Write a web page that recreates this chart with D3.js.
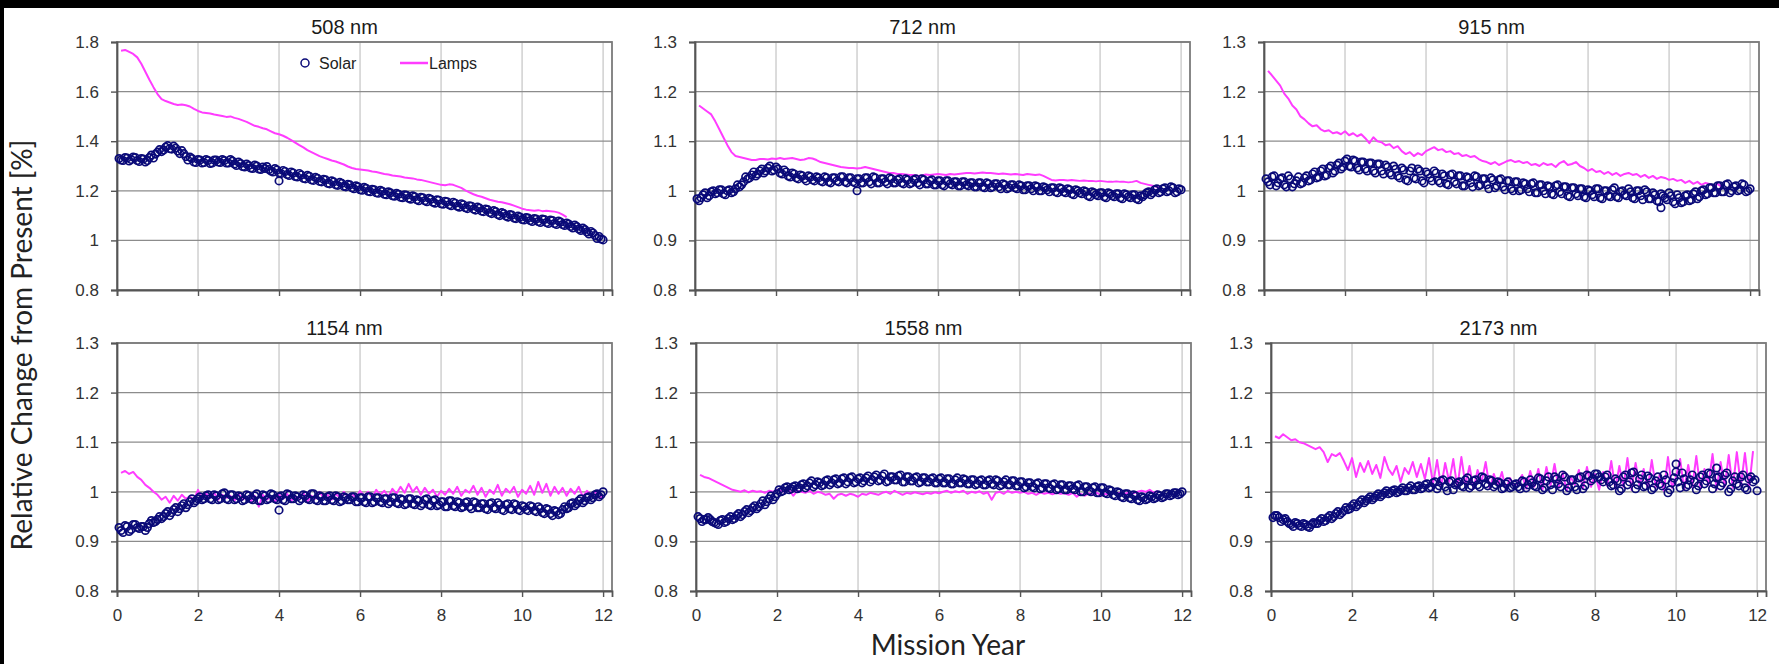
<!DOCTYPE html>
<html>
<head>
<meta charset="utf-8">
<script src="https://cdn.jsdelivr.net/npm/d3@7"></script>
<style>
  body { margin: 0; background: #fff; }
  svg { display: block; }
</style>
</head>
<body>
<div id="chart"></div>
<script>
// Sample times (mission year): main samples and the in-between samples
const years = [0.1,0.2,0.3,0.4,0.5,0.6,0.7,0.8,0.9,1.0,1.1,1.2,1.3,1.4,1.5,1.6,1.7,1.8,1.9,2.0,
  2.1,2.2,2.3,2.4,2.5,2.6,2.7,2.8,2.9,3.0,3.1,3.2,3.3,3.4,3.5,3.6,3.7,3.8,3.9,4.0,
  4.1,4.2,4.3,4.4,4.5,4.6,4.7,4.8,4.9,5.0,5.1,5.2,5.3,5.4,5.5,5.6,5.7,5.8,5.9,6.0,
  6.1,6.2,6.3,6.4,6.5,6.6,6.7,6.8,6.9,7.0,7.1,7.2,7.3,7.4,7.5,7.6,7.7,7.8,7.9,8.0,
  8.1,8.2,8.3,8.4,8.5,8.6,8.7,8.8,8.9,9.0,9.1,9.2,9.3,9.4,9.5,9.6,9.7,9.8,9.9,10.0,
  10.1,10.2,10.3,10.4,10.5,10.6,10.7,10.8,10.9,11.0,11.1,11.2,11.3,11.4,11.5,11.6,11.7,11.8,11.9,12.0];
const yearsB = [0.05,0.15,0.25,0.35,0.45,0.55,0.65,0.75,0.85,0.95,1.05,1.15,1.25,1.35,1.45,1.55,1.65,1.75,1.85,1.95,
  2.05,2.15,2.25,2.35,2.45,2.55,2.65,2.75,2.85,2.95,3.05,3.15,3.25,3.35,3.45,3.55,3.65,3.75,3.85,3.95,
  4.05,4.15,4.25,4.35,4.45,4.55,4.65,4.75,4.85,4.95,5.05,5.15,5.25,5.35,5.45,5.55,5.65,5.75,5.85,5.95,
  6.05,6.15,6.25,6.35,6.45,6.55,6.65,6.75,6.85,6.95,7.05,7.15,7.25,7.35,7.45,7.55,7.65,7.75,7.85,7.95,
  8.05,8.15,8.25,8.35,8.45,8.55,8.65,8.75,8.85,8.95,9.05,9.15,9.25,9.35,9.45,9.55,9.65,9.75,9.85,9.95,
  10.05,10.15,10.25,10.35,10.45,10.55,10.65,10.75,10.85,10.95,11.05,11.15,11.25,11.35,11.45,11.55,11.65,11.75,11.85,11.95];

const titles = ["508 nm", "712 nm", "915 nm", "1154 nm", "1558 nm", "2173 nm"];
const xTicks = [0, 2, 4, 6, 8, 10, 12];
const yTicksWide = [0.8, 1.0, 1.2, 1.4, 1.6, 1.8];
const yTicksNarrow = [0.8, 0.9, 1.0, 1.1, 1.2, 1.3];

// Solar (open circles) at years
const solar508 = [1.324,1.334,1.320,1.336,1.322,1.330,1.316,1.334,1.332,1.356,
  1.358,1.376,1.370,1.380,1.360,1.362,1.338,1.336,1.316,1.326,
  1.312,1.326,1.310,1.324,1.316,1.326,1.312,1.326,1.308,1.316,
  1.298,1.308,1.292,1.304,1.288,1.296,1.298,1.280,1.290,1.272,
  1.282,1.266,1.276,1.258,1.270,1.250,1.262,1.244,1.254,1.238,
  1.246,1.230,1.240,1.224,1.234,1.218,1.226,1.212,1.220,1.204,
  1.214,1.198,1.206,1.192,1.202,1.186,1.196,1.180,1.190,1.174,
  1.184,1.170,1.180,1.164,1.174,1.160,1.170,1.154,1.164,1.148,
  1.158,1.144,1.154,1.138,1.148,1.132,1.140,1.126,1.134,1.118,
  1.126,1.112,1.120,1.104,1.112,1.098,1.104,1.090,1.098,1.084,
  1.092,1.080,1.088,1.076,1.086,1.072,1.082,1.068,1.078,1.064,
  1.070,1.056,1.062,1.046,1.050,1.034,1.036,1.020,1.016,1.002];
const solar712 = [0.980,0.992,0.986,0.998,0.994,1.002,0.994,1.000,0.996,1.004,
  1.008,1.018,1.024,1.032,1.030,1.040,1.036,1.046,1.040,1.048,
  1.036,1.042,1.030,1.036,1.026,1.032,1.024,1.030,1.022,1.028,
  1.020,1.028,1.018,1.026,1.020,1.028,1.018,1.026,1.018,1.024,
  1.016,1.026,1.018,1.028,1.016,1.024,1.018,1.026,1.016,1.022,
  1.016,1.024,1.014,1.022,1.016,1.024,1.014,1.020,1.012,1.020,
  1.012,1.020,1.014,1.018,1.010,1.018,1.012,1.016,1.008,1.016,
  1.008,1.016,1.006,1.014,1.008,1.014,1.004,1.012,1.006,1.012,
  1.002,1.010,1.004,1.010,1.000,1.008,1.002,1.006,0.998,1.006,
  0.998,1.004,0.994,1.002,0.996,1.000,0.990,0.998,0.992,0.996,
  0.988,0.996,0.990,0.994,0.986,0.994,0.988,0.992,0.984,0.990,
  0.992,0.998,0.996,1.004,0.998,1.006,1.000,1.006,0.998,1.002];
const solar915 = [1.018,1.028,1.010,1.024,1.012,1.030,1.008,1.020,1.014,1.026,
  1.020,1.034,1.026,1.040,1.030,1.046,1.036,1.052,1.044,1.060,
  1.050,1.062,1.046,1.058,1.044,1.056,1.040,1.054,1.040,1.052,
  1.036,1.050,1.030,1.046,1.022,1.040,1.026,1.044,1.020,1.038,
  1.026,1.040,1.020,1.034,1.014,1.032,1.018,1.030,1.010,1.028,
  1.016,1.030,1.010,1.024,1.012,1.026,1.006,1.022,1.008,1.020,
  1.004,1.018,1.000,1.016,1.004,1.014,0.996,1.012,1.000,1.010,
  0.994,1.010,0.998,1.008,0.990,1.006,0.994,1.004,0.988,1.002,
  0.992,1.004,0.986,1.000,0.990,1.002,0.988,0.998,0.992,1.004,
  0.986,1.000,0.990,1.002,0.984,0.996,0.980,0.994,0.986,0.996,
  0.978,0.992,0.976,0.990,0.980,0.994,0.984,1.000,0.992,1.006,
  0.996,1.010,0.998,1.012,0.996,1.008,1.000,1.014,0.998,1.004];
const solar1154 = [0.922,0.932,0.920,0.934,0.928,0.930,0.922,0.936,0.938,0.944,
  0.946,0.956,0.952,0.964,0.960,0.972,0.968,0.980,0.978,0.986,
  0.984,0.992,0.986,0.994,0.984,0.996,0.986,0.994,0.984,0.992,
  0.982,0.994,0.986,0.992,0.982,0.994,0.984,0.996,0.986,0.990,
  0.984,0.996,0.986,0.992,0.982,0.994,0.986,0.996,0.984,0.992,
  0.982,0.990,0.984,0.992,0.980,0.990,0.984,0.990,0.980,0.988,
  0.980,0.990,0.978,0.988,0.980,0.986,0.976,0.988,0.978,0.986,
  0.974,0.986,0.976,0.984,0.972,0.984,0.974,0.982,0.972,0.980,
  0.970,0.982,0.972,0.980,0.968,0.978,0.970,0.980,0.968,0.976,
  0.966,0.976,0.968,0.978,0.964,0.974,0.966,0.976,0.964,0.972,
  0.964,0.972,0.962,0.970,0.958,0.966,0.956,0.962,0.954,0.964,
  0.966,0.976,0.972,0.982,0.978,0.988,0.984,0.994,0.990,1.000];
const solar1558 = [0.946,0.944,0.948,0.940,0.936,0.942,0.938,0.946,0.944,0.952,
  0.950,0.960,0.958,0.968,0.966,0.976,0.974,0.986,0.984,0.996,
  1.000,1.008,1.004,1.010,1.006,1.014,1.008,1.018,1.010,1.020,
  1.012,1.022,1.014,1.024,1.016,1.026,1.016,1.028,1.018,1.026,
  1.018,1.028,1.020,1.030,1.022,1.032,1.020,1.030,1.024,1.032,
  1.020,1.030,1.022,1.028,1.018,1.028,1.020,1.026,1.018,1.026,
  1.018,1.026,1.016,1.024,1.018,1.026,1.016,1.024,1.014,1.022,
  1.014,1.022,1.016,1.024,1.012,1.020,1.014,1.022,1.012,1.020,
  1.008,1.018,1.010,1.016,1.006,1.016,1.008,1.014,1.004,1.014,
  1.004,1.012,1.006,1.012,1.000,1.010,1.002,1.008,0.998,1.008,
  0.998,1.004,0.994,1.000,0.990,0.996,0.988,0.994,0.984,0.990,
  0.984,0.992,0.986,0.994,0.988,0.996,0.992,0.998,0.994,1.000];
const solar2173 = [0.952,0.948,0.944,0.940,0.934,0.938,0.932,0.936,0.930,0.934,
  0.936,0.942,0.940,0.948,0.946,0.956,0.954,0.962,0.964,0.972,
  0.970,0.980,0.978,0.986,0.984,0.992,0.990,0.998,0.996,1.002,
  0.998,1.004,1.002,1.008,1.004,1.010,1.006,1.014,1.008,1.018,
  1.006,1.022,1.010,1.020,1.004,1.018,1.012,1.024,1.008,1.022,
  1.014,1.030,1.016,1.024,1.010,1.020,1.006,1.016,1.008,1.014,
  1.010,1.022,1.008,1.024,1.012,1.028,1.004,1.022,1.014,1.030,
  1.016,1.034,1.002,1.024,1.010,1.028,1.006,1.034,1.022,1.036,
  1.030,1.020,1.034,1.012,1.026,1.002,1.030,1.014,1.038,1.006,
  1.026,1.010,1.032,1.004,1.022,1.016,1.034,0.998,1.018,1.040,
  1.008,1.026,1.014,1.034,1.004,1.030,1.016,1.038,1.006,1.028,
  1.012,1.034,1.000,1.022,1.016,1.030,1.008,1.026,1.020,1.002];

// Solar at yearsB
const solar508b = [1.330,1.322,1.332,1.326,1.334,1.318,1.328,1.322,1.344,1.348,
  1.366,1.364,1.382,1.368,1.372,1.350,1.350,1.324,1.330,1.314,
  1.324,1.314,1.322,1.312,1.324,1.314,1.322,1.312,1.320,1.302,
  1.310,1.296,1.302,1.290,1.300,1.286,1.290,1.286,1.276,1.284,
  1.270,1.278,1.262,1.272,1.256,1.264,1.248,1.258,1.242,1.250,
  1.236,1.244,1.228,1.236,1.222,1.230,1.216,1.224,1.208,1.216,
  1.202,1.210,1.196,1.204,1.190,1.198,1.184,1.192,1.178,1.186,
  1.172,1.182,1.166,1.176,1.160,1.172,1.156,1.166,1.150,1.162,
  1.146,1.156,1.140,1.150,1.134,1.144,1.128,1.138,1.122,1.130,
  1.116,1.124,1.108,1.116,1.100,1.108,1.094,1.102,1.088,1.094,
  1.082,1.090,1.076,1.086,1.072,1.084,1.068,1.080,1.064,1.074,
  1.060,1.066,1.050,1.056,1.040,1.044,1.026,1.030,1.008,1.006];
const solar712b = [0.984,0.986,0.996,0.990,1.000,0.996,1.002,0.992,1.002,0.998,
  1.012,1.012,1.028,1.026,1.038,1.034,1.044,1.040,1.050,1.042,
  1.044,1.034,1.038,1.028,1.034,1.024,1.030,1.020,1.028,1.020,
  1.026,1.018,1.026,1.016,1.026,1.018,1.028,1.016,1.026,1.016,
  1.024,1.016,1.026,1.014,1.026,1.016,1.024,1.014,1.024,1.016,
  1.024,1.014,1.022,1.016,1.024,1.012,1.022,1.014,1.022,1.012,
  1.020,1.010,1.020,1.012,1.018,1.010,1.018,1.010,1.016,1.008,
  1.016,1.006,1.014,1.008,1.014,1.004,1.012,1.006,1.012,1.004,
  1.010,1.002,1.010,1.000,1.008,1.000,1.006,0.998,1.006,0.996,
  1.004,0.996,1.002,0.992,1.000,0.994,0.998,0.988,0.996,0.990,
  0.996,0.986,0.994,0.988,0.994,0.984,0.992,0.986,0.992,0.982,
  0.988,0.996,0.992,1.002,0.996,1.004,0.998,1.008,0.996,1.004];
const solar915b = [1.024,1.012,1.030,1.016,1.026,1.008,1.024,1.014,1.028,1.016,
  1.030,1.022,1.038,1.028,1.044,1.032,1.050,1.040,1.056,1.048,
  1.064,1.048,1.060,1.042,1.058,1.040,1.056,1.036,1.054,1.034,
  1.048,1.032,1.044,1.026,1.042,1.020,1.046,1.024,1.040,1.016,
  1.034,1.020,1.036,1.016,1.030,1.012,1.034,1.014,1.030,1.010,
  1.026,1.008,1.028,1.012,1.024,1.004,1.022,1.010,1.024,1.002,
  1.020,1.000,1.018,1.002,1.014,0.998,1.016,0.996,1.012,0.994,
  1.008,0.992,1.012,0.994,1.008,0.988,1.006,0.990,1.004,0.986,
  1.000,0.988,1.004,0.984,1.000,0.988,1.006,0.986,1.000,0.990,
  0.998,0.984,1.000,0.982,0.998,0.984,0.992,0.978,0.990,0.982,
  0.990,0.974,0.986,0.978,0.992,0.982,0.998,0.988,1.002,0.994,
  1.006,0.996,1.010,0.998,1.014,1.000,1.010,1.002,1.012,1.000];
const solar1154b = [0.928,0.918,0.930,0.924,0.934,0.926,0.930,0.928,0.942,0.940,
  0.950,0.950,0.960,0.958,0.968,0.966,0.976,0.974,0.986,0.982,
  0.990,0.986,0.994,0.984,0.992,0.986,0.998,0.984,0.994,0.986,
  0.990,0.984,0.992,0.984,0.996,0.982,0.992,0.986,0.994,0.984,
  0.992,0.982,0.994,0.986,0.990,0.986,0.992,0.984,0.996,0.982,
  0.990,0.982,0.992,0.982,0.990,0.982,0.988,0.984,0.990,0.980,
  0.988,0.978,0.990,0.980,0.988,0.978,0.986,0.980,0.988,0.976,
  0.984,0.976,0.986,0.974,0.982,0.976,0.986,0.972,0.984,0.974,
  0.980,0.970,0.982,0.970,0.978,0.970,0.980,0.966,0.978,0.968,
  0.976,0.964,0.978,0.966,0.974,0.962,0.976,0.964,0.974,0.962,
  0.970,0.962,0.970,0.960,0.966,0.956,0.964,0.952,0.960,0.956,
  0.970,0.968,0.978,0.976,0.986,0.982,0.990,0.988,0.996,0.994];
const solar1558b = [0.950,0.940,0.944,0.944,0.938,0.934,0.944,0.940,0.950,0.946,
  0.956,0.954,0.964,0.962,0.972,0.970,0.982,0.980,0.992,0.990,
  1.004,1.002,1.010,1.006,1.012,1.008,1.016,1.012,1.022,1.014,
  1.018,1.014,1.024,1.018,1.026,1.018,1.028,1.020,1.030,1.020,
  1.028,1.022,1.032,1.024,1.034,1.024,1.036,1.022,1.030,1.024,
  1.034,1.020,1.030,1.022,1.030,1.020,1.028,1.020,1.028,1.018,
  1.028,1.018,1.026,1.016,1.028,1.018,1.024,1.016,1.024,1.016,
  1.024,1.014,1.024,1.014,1.022,1.014,1.024,1.014,1.022,1.012,
  1.020,1.010,1.018,1.008,1.018,1.008,1.016,1.006,1.016,1.006,
  1.014,1.004,1.012,1.004,1.014,1.000,1.010,1.000,1.010,0.998,
  1.008,0.996,1.002,0.992,0.998,0.988,0.996,0.986,0.992,0.982,
  0.988,0.986,0.990,0.988,0.992,0.990,0.996,0.994,0.998,0.996];
const solar2173b = [0.948,0.952,0.940,0.946,0.936,0.930,0.936,0.930,0.934,0.928,
  0.938,0.936,0.946,0.942,0.952,0.950,0.960,0.958,0.968,0.966,
  0.976,0.974,0.984,0.982,0.990,0.988,0.996,0.994,1.002,0.998,
  1.004,1.000,1.008,1.002,1.012,1.004,1.012,1.008,1.016,1.010,
  1.020,1.012,1.024,1.002,1.022,1.014,1.020,1.010,1.028,1.012,
  1.024,1.010,1.028,1.012,1.022,1.014,1.018,1.008,1.020,1.010,
  1.016,1.006,1.020,1.014,1.018,1.010,1.026,1.008,1.030,1.004,
  1.026,1.010,1.030,1.008,1.024,1.004,1.030,1.012,1.032,1.026,
  1.036,1.024,1.030,1.020,1.014,1.022,1.006,1.034,1.020,1.040,
  1.014,1.034,1.012,1.028,1.008,1.030,1.012,1.024,1.004,1.028,
  1.020,1.038,1.010,1.024,1.020,1.012,1.034,1.022,1.036,1.016,
  1.030,1.018,1.038,1.006,1.030,1.012,1.034,1.004,1.030,1.024];

// isolated solar points [year, value]
const solarOutliers = [[[4.0, 1.240]], [[4.0, 1.000]], [[9.8, 0.966]],
  [[4.0, 0.963]], [], [[10.0, 1.056], [11.0, 1.048]]];

// Lamps (line), sampled on years until the series stops
const lamps508 = [1.765,1.768,1.760,1.752,1.738,1.712,1.680,1.648,1.618,1.590,
  1.570,1.562,1.556,1.550,1.546,1.548,1.545,1.540,1.530,1.522,
  1.516,1.514,1.512,1.508,1.505,1.502,1.498,1.500,1.494,1.490,
  1.484,1.478,1.470,1.462,1.458,1.452,1.448,1.440,1.432,1.428,
  1.422,1.414,1.404,1.394,1.384,1.375,1.364,1.356,1.348,1.340,
  1.334,1.328,1.322,1.318,1.312,1.306,1.298,1.292,1.288,1.286,
  1.284,1.282,1.278,1.276,1.272,1.268,1.266,1.262,1.260,1.258,
  1.254,1.252,1.250,1.246,1.244,1.240,1.236,1.232,1.228,1.224,
  1.222,1.226,1.224,1.218,1.212,1.202,1.194,1.186,1.180,1.176,
  1.170,1.164,1.160,1.156,1.154,1.150,1.146,1.140,1.134,1.128,
  1.124,1.122,1.120,1.122,1.118,1.120,1.118,1.116,1.112,1.104,
  1.094];
const lamps712 = [1.172,1.166,1.160,1.154,1.140,1.124,1.108,1.092,1.078,1.070,
  1.068,1.066,1.064,1.062,1.062,1.064,1.064,1.063,1.065,1.064,
  1.066,1.064,1.065,1.066,1.064,1.062,1.063,1.066,1.065,1.062,
  1.058,1.056,1.054,1.052,1.050,1.048,1.047,1.046,1.046,1.045,
  1.046,1.048,1.046,1.044,1.042,1.040,1.038,1.036,1.036,1.034,
  1.034,1.033,1.032,1.032,1.030,1.031,1.033,1.032,1.033,1.034,
  1.033,1.032,1.034,1.033,1.034,1.035,1.036,1.036,1.035,1.036,
  1.037,1.036,1.036,1.035,1.034,1.035,1.034,1.033,1.034,1.033,
  1.032,1.034,1.033,1.032,1.033,1.030,1.026,1.022,1.021,1.022,
  1.022,1.021,1.022,1.021,1.020,1.021,1.020,1.020,1.019,1.020,
  1.019,1.018,1.018,1.019,1.018,1.018,1.017,1.018,1.020,1.016,
  1.014,1.012,1.010,1.008,1.006];
const lamps915 = [1.242,1.232,1.222,1.212,1.196,1.186,1.172,1.164,1.150,1.144,
  1.136,1.130,1.132,1.124,1.120,1.122,1.116,1.118,1.114,1.120,
  1.112,1.116,1.110,1.114,1.106,1.096,1.108,1.100,1.098,1.092,
  1.094,1.086,1.090,1.080,1.074,1.078,1.070,1.076,1.072,1.080,
  1.084,1.088,1.082,1.084,1.078,1.080,1.074,1.076,1.070,1.072,
  1.068,1.070,1.064,1.060,1.058,1.054,1.058,1.052,1.056,1.060,
  1.062,1.058,1.060,1.056,1.058,1.052,1.054,1.050,1.056,1.052,
  1.054,1.048,1.056,1.060,1.052,1.054,1.058,1.050,1.046,1.040,
  1.044,1.038,1.040,1.034,1.038,1.032,1.036,1.030,1.034,1.036,
  1.032,1.034,1.028,1.032,1.026,1.030,1.024,1.028,1.026,1.022,
  1.024,1.020,1.022,1.016,1.020,1.014,1.018,1.012,1.016,1.014,
  1.010,1.014,1.008];
const lamps1154 = [1.038,1.042,1.036,1.040,1.030,1.024,1.014,1.008,1.000,0.994,
  0.984,0.990,0.978,0.992,0.982,0.994,0.986,0.990,0.984,1.004,
  0.986,0.996,0.988,0.998,0.984,0.994,0.988,0.992,0.982,0.996,
  0.984,0.990,0.980,0.992,0.970,0.994,0.984,0.990,0.980,0.994,
  0.986,0.996,0.982,0.990,0.988,0.998,0.980,0.992,0.986,1.000,
  0.988,0.994,0.984,0.996,0.988,1.000,0.990,0.996,0.988,1.002,
  0.992,1.000,0.988,1.004,0.994,1.002,0.990,1.006,0.996,1.010,
  0.998,1.016,1.000,1.010,0.994,1.008,0.996,1.004,0.990,1.002,
  0.994,1.006,0.996,1.010,0.992,1.004,0.998,1.012,0.994,1.008,
  0.990,1.004,0.996,1.014,0.992,1.006,0.998,1.010,0.990,1.004,
  0.996,1.012,0.994,1.020,0.998,1.016,0.992,1.010,0.996,1.008,
  0.992,1.006,0.996,1.010,0.990,1.002,0.994,1.000,0.988,0.992];
const lamps1558 = [1.034,1.030,1.028,1.024,1.020,1.016,1.012,1.008,1.004,1.002,
  1.000,1.003,0.999,1.002,1.000,1.001,0.998,1.002,1.000,1.004,
  1.002,1.000,1.004,0.992,1.002,1.000,0.998,1.002,0.996,1.000,
  0.998,0.994,0.996,0.986,0.994,0.996,0.992,0.996,0.994,0.990,
  0.996,0.994,0.998,0.996,0.994,0.998,1.000,0.996,1.002,0.998,
  0.994,0.998,0.996,0.999,0.997,0.995,0.998,0.996,0.999,0.997,
  1.000,1.002,0.998,1.001,0.999,1.002,0.996,1.000,0.998,1.001,
  0.996,0.999,0.984,0.998,1.000,0.996,1.002,0.998,1.000,0.998,
  1.000,0.996,0.998,0.994,0.999,0.996,0.998,0.995,0.998,0.996,
  0.997,0.994,0.998,0.990,0.996,0.992,0.997,0.994,0.998,0.992,
  0.996,0.994,0.998,0.996,0.999,0.996,1.000,0.997,1.000,1.002,
  1.000,1.004,0.998,1.002];
const lamps2173 = [1.112,1.108,1.116,1.110,1.104,1.106,1.100,1.098,1.094,1.090,
  1.086,1.090,1.080,1.060,1.076,1.072,1.078,1.062,1.044,1.068,
  1.030,1.058,1.040,1.062,1.036,1.054,1.028,1.070,1.046,1.034,
  1.052,1.020,1.048,1.036,1.060,1.030,1.056,1.026,1.068,1.016,
  1.064,1.010,1.058,1.020,1.066,1.008,1.070,1.014,1.052,1.006,
  1.044,1.020,1.060,1.006,1.036,1.012,1.040,1.004,1.028,1.010,
  1.020,1.034,1.006,1.042,1.010,1.046,1.004,1.050,1.012,1.056,
  1.008,1.038,1.002,1.030,1.014,1.044,1.006,1.050,1.010,1.036,
  1.004,1.040,1.012,1.062,1.006,1.052,1.010,1.068,1.004,1.058,
  1.012,1.046,1.006,1.064,1.010,1.036,1.002,1.070,1.008,1.030,
  1.066,1.004,1.054,1.010,1.072,1.006,1.046,1.014,1.076,1.004,
  1.060,1.010,1.074,1.008,1.080,1.012,1.078,1.006,1.082];

const solarSeries = [solar508, solar712, solar915, solar1154, solar1558, solar2173];
const solarSeriesB = [solar508b, solar712b, solar915b, solar1154b, solar1558b, solar2173b];
const lampSeries = [lamps508, lamps712, lamps915, lamps1154, lamps1558, lamps2173];
const yDomains = [[0.8, 1.8], [0.8, 1.3], [0.8, 1.3], [0.8, 1.3], [0.8, 1.3], [0.8, 1.3]];
const yTickSets = [yTicksWide, yTicksNarrow, yTicksNarrow, yTicksNarrow, yTicksNarrow, yTicksNarrow];

// Layout
const width = 1779, height = 664;
const pw = 495, ph = 248;
const origins = [[117, 42], [695, 42], [1264, 42], [117, 343], [696, 343], [1271, 343]];
const solarColor = "#0a0a78", lampColor = "#ff3cff";
const tickFont = "Liberation Sans, Arial, sans-serif";
const titleFont = "Lato, 'Open Sans', sans-serif";

const svg = d3.select("#chart").append("svg")
  .attr("width", width)
  .attr("height", height);

svg.append("rect").attr("width", width).attr("height", height).attr("fill", "#fff");
// dark frame strips along the top and left edge of the picture
svg.append("rect").attr("width", width).attr("height", 8).attr("fill", "#000");
svg.append("rect").attr("width", 4).attr("height", height).attr("fill", "#000");

titles.forEach((title, i) => {
  const [x0, y0] = origins[i];
  const bottomRow = i >= 3;
  const g = svg.append("g").attr("transform", `translate(${x0},${y0})`);

  const x = d3.scaleLinear().domain([0, 12.22]).range([0, pw]);
  const y = d3.scaleLinear().domain(yDomains[i]).range([ph, 0]);

  // gridlines
  g.append("g").selectAll("line").data(xTicks.slice(1)).join("line")
    .attr("x1", d => x(d)).attr("x2", d => x(d))
    .attr("y1", 0).attr("y2", ph)
    .attr("stroke", "#c4c4c4").attr("stroke-width", 1.2);
  g.append("g").selectAll("line").data(yTickSets[i].slice(1)).join("line")
    .attr("x1", 0).attr("x2", pw)
    .attr("y1", d => y(d)).attr("y2", d => y(d))
    .attr("stroke", "#8c8c8c").attr("stroke-width", 1.2);

  // plot border
  g.append("rect").attr("width", pw).attr("height", ph)
    .attr("fill", "none").attr("stroke", "#7a7a7a").attr("stroke-width", 1.8);

  // axes
  const yAxis = g.append("g")
    .call(d3.axisLeft(y).tickValues(yTickSets[i]).tickSize(6).tickPadding(12)
      .tickFormat(d => String(+d.toFixed(1))));
  const xAxis = g.append("g").attr("transform", `translate(0,${ph})`)
    .call(d3.axisBottom(x).tickValues(xTicks).tickSize(6).tickPadding(12)
      .tickFormat(d => bottomRow ? d : ""));
  [yAxis, xAxis].forEach(a => {
    a.select(".domain").attr("stroke", "#555").attr("stroke-width", 1.8);
    a.selectAll(".tick line").attr("stroke", "#555").attr("stroke-width", 1.4);
    a.selectAll("text").attr("font-family", tickFont).attr("font-size", 17).attr("fill", "#333");
  });

  // title
  g.append("text")
    .attr("x", pw / 2 - 20).attr("y", -8)
    .attr("text-anchor", "middle")
    .attr("font-family", tickFont).attr("font-size", 20).attr("fill", "#1a1a1a")
    .text(title);

  // Lamps line
  const lamp = lampSeries[i].map((v, k) => [years[k], v]);
  g.append("path")
    .datum(lamp)
    .attr("fill", "none")
    .attr("stroke", lampColor)
    .attr("stroke-width", 2)
    .attr("stroke-linejoin", "round")
    .attr("d", d3.line().x(d => x(d[0])).y(d => y(d[1])));

  // Solar circles
  const solar = solarSeries[i].map((v, k) => [years[k], v])
    .concat(solarSeriesB[i].map((v, k) => [yearsB[k], v]))
    .concat(solarOutliers[i]);
  g.append("g").selectAll("circle").data(solar).join("circle")
    .attr("cx", d => x(d[0]))
    .attr("cy", d => y(d[1]))
    .attr("r", 3.7)
    .attr("fill", "none")
    .attr("stroke", solarColor)
    .attr("stroke-width", 1.7);

  // legend in the first panel
  if (i === 0) {
    const lg = g.append("g").attr("transform", "translate(188,21)");
    lg.append("circle").attr("cx", 0).attr("cy", 0).attr("r", 4)
      .attr("fill", "none").attr("stroke", solarColor).attr("stroke-width", 1.5);
    lg.append("text").attr("x", 14).attr("y", 6)
      .attr("font-family", tickFont).attr("font-size", 16).attr("fill", "#222").text("Solar");
    lg.append("line").attr("x1", 95).attr("x2", 123).attr("y1", 0).attr("y2", 0)
      .attr("stroke", lampColor).attr("stroke-width", 2.5);
    lg.append("text").attr("x", 124).attr("y", 6)
      .attr("font-family", tickFont).attr("font-size", 16).attr("fill", "#222").text("Lamps");
  }
});

// axis titles
svg.append("text")
  .attr("x", 948).attr("y", 655)
  .attr("text-anchor", "middle")
  .attr("font-family", titleFont).attr("font-size", 28).attr("fill", "#222")
  .text("Mission Year");

svg.append("text")
  .attr("transform", "translate(32,345) rotate(-90)")
  .attr("text-anchor", "middle")
  .attr("font-family", titleFont).attr("font-size", 28).attr("fill", "#222")
  .text("Relative Change from Present [%]");
</script>
</body>
</html>
